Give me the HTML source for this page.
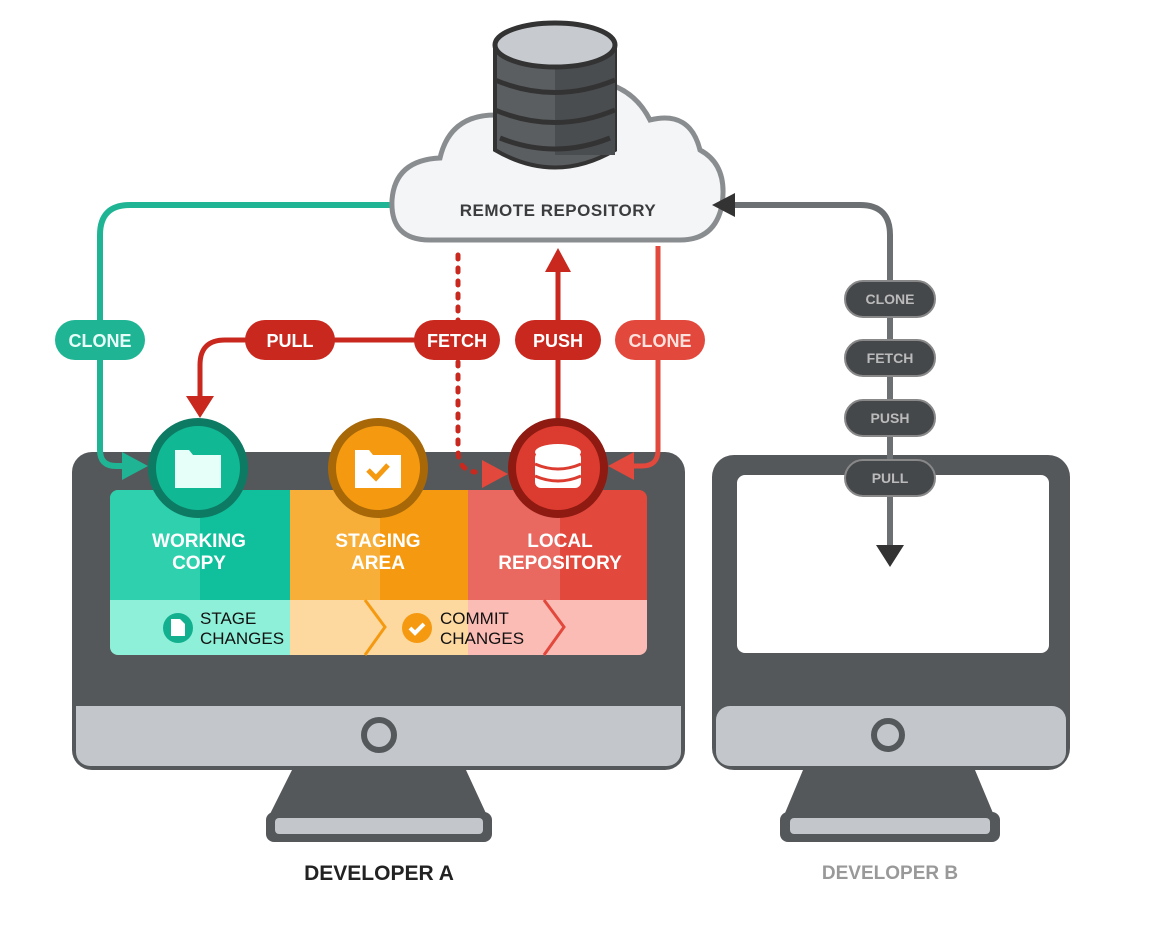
<!DOCTYPE html>
<html><head><meta charset="utf-8"><style>
html,body{margin:0;padding:0;background:#fff;}
svg{display:block;font-family:"Liberation Sans",sans-serif;}
</style></head><body>
<svg width="1176" height="941" viewBox="0 0 1176 941" xmlns="http://www.w3.org/2000/svg">
<defs>
<clipPath id="pc"><rect x="110" y="490" width="537" height="165" rx="8"/></clipPath>
</defs>
<!-- Monitor A -->
<rect x="72" y="452" width="613" height="318" rx="20" fill="#55585b"/>
<rect x="76" y="706" width="605" height="60" rx="14" fill="#c3c7cb"/>
<rect x="76" y="706" width="605" height="20" fill="#c3c7cb"/>
<circle cx="379" cy="735" r="15" fill="none" stroke="#55585b" stroke-width="6"/>
<path d="M292,770 L466,770 L490,822 L266,822 Z" fill="#55585b"/>
<rect x="266" y="812" width="226" height="30" rx="8" fill="#55585b"/>
<rect x="275" y="818" width="208" height="16" rx="4" fill="#c3c7cb"/>
<text x="379" y="880" text-anchor="middle" font-size="21" font-weight="bold" fill="#222">DEVELOPER A</text>

<!-- Panel -->
<g clip-path="url(#pc)">
<rect x="110" y="490" width="180" height="112" fill="#10c09c"/>
<rect x="110" y="490" width="90" height="112" fill="#2fd0ad"/>
<rect x="290" y="490" width="178" height="112" fill="#f59a10"/>
<rect x="290" y="490" width="90" height="112" fill="#f8af3a"/>
<rect x="468" y="490" width="179" height="112" fill="#e2483c"/>
<rect x="468" y="490" width="92" height="112" fill="#e9685f"/>
<rect x="110" y="600" width="180" height="55" fill="#8ef0d8"/>
<rect x="290" y="600" width="178" height="55" fill="#fdd9a0"/>
<rect x="468" y="600" width="179" height="55" fill="#fbbcb6"/>
</g>
<path d="M365,600 L385,627 L365,655" fill="none" stroke="#f59a10" stroke-width="3"/>
<path d="M544,600 L564,627 L544,655" fill="none" stroke="#e2483c" stroke-width="3"/>
<g fill="#fff" font-weight="bold" font-size="19" text-anchor="middle">
<text x="199" y="547">WORKING</text><text x="199" y="569">COPY</text>
<text x="378" y="547">STAGING</text><text x="378" y="569">AREA</text>
<text x="560" y="547">LOCAL</text><text x="560" y="569">REPOSITORY</text>
</g>
<g fill="#111" font-size="17">
<text x="200" y="624">STAGE</text><text x="200" y="644">CHANGES</text>
<text x="440" y="624">COMMIT</text><text x="440" y="644">CHANGES</text>
</g>
<circle cx="178" cy="628" r="15" fill="#12b08f"/>
<path d="M171,619 h9 l5,5 v12 h-14z" fill="#fff"/>
<circle cx="417" cy="628" r="15" fill="#f59a10"/>
<path d="M410,628 l5,5 l9,-9" fill="none" stroke="#fff" stroke-width="4"/>

<!-- Teal clone -->
<path d="M392,205 H130 Q100,205 100,235 V450 Q100,466 116,466 H130" fill="none" stroke="#1fb594" stroke-width="6"/>
<path d="M122,452 L148,466 L122,480Z" fill="#1fb594"/>
<rect x="55" y="320" width="90" height="40" rx="20" fill="#1fb594"/>
<text x="100" y="347" text-anchor="middle" fill="#e6fff8" font-weight="bold" font-size="18">CLONE</text>

<!-- Red lines -->
<path d="M455,340 H225 Q200,340 200,365 V400" fill="none" stroke="#c8281d" stroke-width="5"/>
<path d="M186,396 L200,418 L214,396Z" fill="#c8281d"/>
<line x1="458" y1="255" x2="458" y2="322" stroke="#c8281d" stroke-width="5" stroke-dasharray="4,9" stroke-linecap="round"/>
<path d="M458,362 V450 Q458,470 475,472" fill="none" stroke="#c8281d" stroke-width="5" stroke-dasharray="4,9" stroke-linecap="round"/>
<path d="M482,460 L508,474 L482,488Z" fill="#e2483c"/>
<line x1="558" y1="268" x2="558" y2="425" stroke="#c8281d" stroke-width="5"/>
<path d="M545,272 L558,248 L571,272Z" fill="#c8281d"/>
<path d="M658,246 V450 Q658,466 642,466 H625" fill="none" stroke="#e2483c" stroke-width="5"/>
<path d="M634,452 L608,466 L634,480Z" fill="#e2483c"/>
<g font-weight="bold" font-size="18" text-anchor="middle" fill="#fff">
<rect x="245" y="320" width="90" height="40" rx="20" fill="#c8281d"/><text x="290" y="347">PULL</text>
<rect x="414" y="320" width="86" height="40" rx="20" fill="#c8281d"/><text x="457" y="347">FETCH</text>
<rect x="515" y="320" width="86" height="40" rx="20" fill="#c8281d"/><text x="558" y="347">PUSH</text>
<rect x="615" y="320" width="90" height="40" rx="20" fill="#e2483c"/><text x="660" y="347" fill="#ffe0dc">CLONE</text>
</g>

<!-- Circles -->
<circle cx="198" cy="468" r="46" fill="#10b894" stroke="#0d7a64" stroke-width="8"/>
<path d="M175,450 h14 l4,5 h28 v33 h-46z" fill="#e6fff8"/>
<circle cx="378" cy="468" r="46" fill="#f59a10" stroke="#a86808" stroke-width="8"/>
<path d="M355,450 h14 l4,5 h28 v33 h-46z" fill="#fff"/>
<path d="M368,470 l8,8 l12,-13" fill="none" stroke="#f59a10" stroke-width="5"/>
<circle cx="558" cy="468" r="46" fill="#dc3b2f" stroke="#8e1a12" stroke-width="8"/>
<g fill="#fff"><ellipse cx="558" cy="452" rx="23" ry="8"/><rect x="535" y="452" width="46" height="36" rx="6"/></g>
<g stroke="#dc3b2f" stroke-width="3" fill="none"><path d="M535,464 Q558,474 581,464"/><path d="M535,476 Q558,486 581,476"/></g>

<!-- Cloud -->
<path d="M430,240 Q390,240 392,200 Q395,160 440,158 Q450,115 495,115 Q520,70 580,80 Q630,80 650,120 Q690,110 700,150 Q728,165 722,205 Q715,240 680,240 Z" fill="#f4f5f7" stroke="#8a8d90" stroke-width="5"/>
<!-- DB -->
<g>
<path d="M495,45 V150 Q555,185 615,150 V45 Z" fill="#5b5e61" stroke="#333" stroke-width="4"/>
<rect x="555" y="45" width="60" height="110" fill="#4a4d50"/>
<ellipse cx="555" cy="45" rx="60" ry="22" fill="#c7cbcf" stroke="#333" stroke-width="5"/>
<g stroke="#333" stroke-width="5" fill="none">
<path d="M495,80 Q555,105 615,80"/><path d="M495,110 Q555,135 615,110"/><path d="M500,138 Q555,160 610,138"/>
</g>
</g>
<text x="558" y="216" text-anchor="middle" font-weight="bold" font-size="17" fill="#3a3c3e" letter-spacing="0.5">REMOTE REPOSITORY</text>

<!-- Monitor B -->
<rect x="712" y="455" width="358" height="315" rx="22" fill="#55585b"/>
<rect x="737" y="475" width="312" height="178" rx="8" fill="#fff"/>
<rect x="716" y="706" width="350" height="60" rx="14" fill="#c3c7cb"/>
<circle cx="888" cy="735" r="14" fill="#c3c7cb" stroke="#55585b" stroke-width="6"/>
<path d="M803,770 L975,770 L998,825 L780,825 Z" fill="#55585b"/>
<rect x="780" y="812" width="220" height="30" rx="8" fill="#55585b"/>
<rect x="790" y="818" width="200" height="16" rx="4" fill="#c3c7cb"/>
<text x="890" y="879" text-anchor="middle" font-size="19" font-weight="bold" fill="#999">DEVELOPER B</text>

<!-- Gray path -->
<path d="M730,205 H860 Q890,205 890,235 V545" fill="none" stroke="#6d7073" stroke-width="6"/>
<path d="M735,193 L712,205 L735,217Z" fill="#333"/>
<path d="M876,545 L890,567 L904,545Z" fill="#333"/>
<g font-weight="bold" font-size="14" text-anchor="middle" fill="#bbb">
<rect x="845" y="281" width="90" height="36" rx="18" fill="#45484b" stroke="#888" stroke-width="2"/><text x="890" y="304">CLONE</text>
<rect x="845" y="340" width="90" height="36" rx="18" fill="#45484b" stroke="#888" stroke-width="2"/><text x="890" y="363">FETCH</text>
<rect x="845" y="400" width="90" height="36" rx="18" fill="#45484b" stroke="#888" stroke-width="2"/><text x="890" y="423">PUSH</text>
<rect x="845" y="460" width="90" height="36" rx="18" fill="#45484b" stroke="#888" stroke-width="2"/><text x="890" y="483">PULL</text>
</g>
</svg>
</body></html>
